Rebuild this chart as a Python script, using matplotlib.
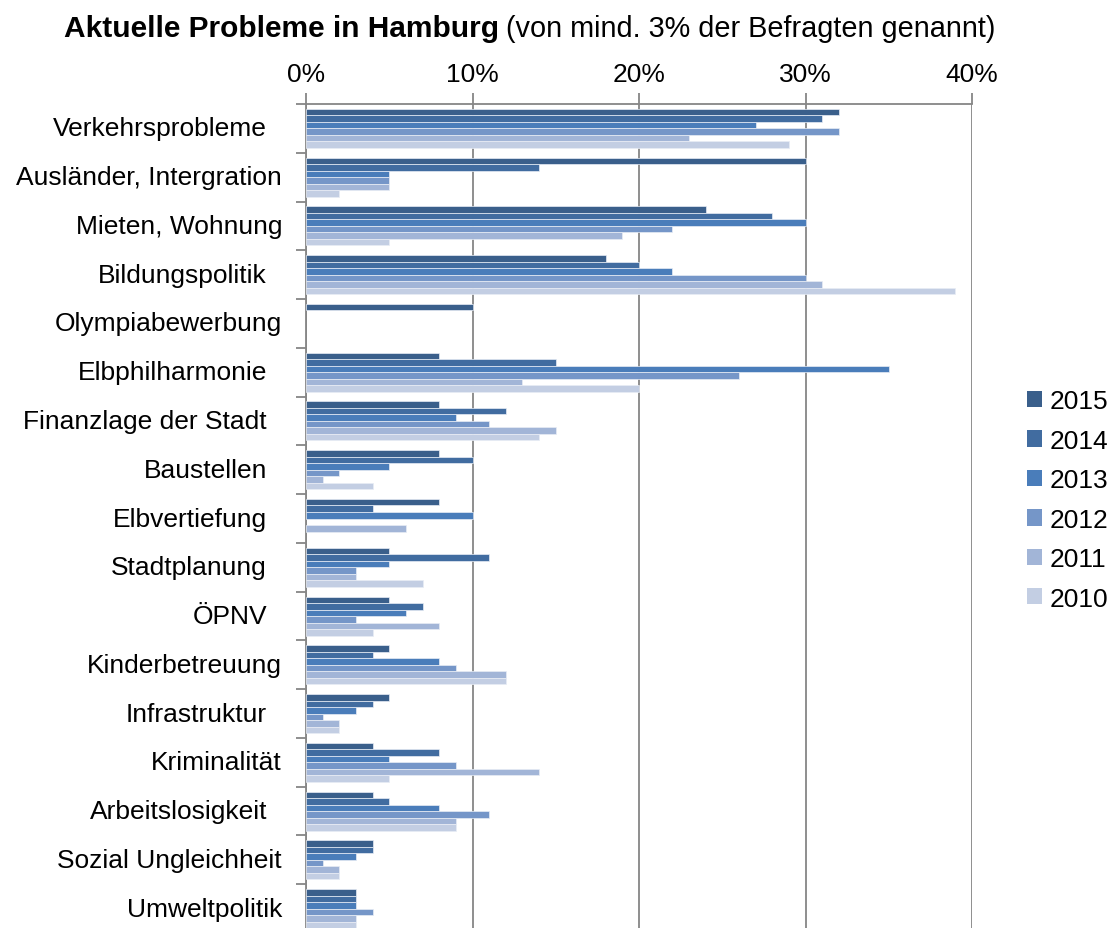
import numpy as np
import matplotlib
matplotlib.use("Agg")
from matplotlib import pyplot as plt
from matplotlib import transforms
from matplotlib.patches import Patch

plt.rcParams['font.family'] = ['Liberation Sans', 'DejaVu Sans']

# categories (trailing space = label sits a bit further left, as in the original)
categories = ["Verkehrsprobleme ", "Ausländer, Intergration", "Mieten, Wohnung",
              "Bildungspolitik ", "Olympiabewerbung", "Elbphilharmonie ",
              "Finanzlage der Stadt ", "Baustellen ", "Elbvertiefung ",
              "Stadtplanung ", "ÖPNV ", "Kinderbetreuung", "Infrastruktur ",
              "Kriminalität", "Arbeitslosigkeit ", "Sozial Ungleichheit",
              "Umweltpolitik"]

nan = np.nan
v2015 = [32, 30, 24, 18, 10, 8, 8, 8, 8, 5, 5, 5, 5, 4, 4, 4, 3]
v2014 = [31, 14, 28, 20, nan, 15, 12, 10, 4, 11, 7, 4, 4, 8, 5, 4, 3]
v2013 = [27, 5, 30, 22, nan, 35, 9, 5, 10, 5, 6, 8, 3, 5, 8, 3, 3]
v2012 = [32, 5, 22, 30, nan, 26, 11, 2, nan, 3, 3, 9, 1, 9, 11, 1, 4]
v2011 = [23, 5, 19, 31, nan, 13, 15, 1, 6, 3, 8, 12, 2, 14, 9, 2, 3]
v2010 = [29, 2, 5, 39, nan, 20, 14, 4, nan, 7, 4, 12, 2, 5, 9, 2, 3]

years = ["2015", "2014", "2013", "2012", "2011", "2010"]
series = [v2015, v2014, v2013, v2012, v2011, v2010]
colors = ["#3a5f8b", "#416ca0", "#4a7dba", "#7596c8", "#a2b5d7", "#c3cee3"]

xticks = [0, 10, 20, 30, 40]
xticklabels = ["0%", "10%", "20%", "30%", "40%"]

fig = plt.figure(figsize=(11.15, 9.29), dpi=100)
ax = fig.add_axes([306/1115, 1 - 934/929, 666/1115, 829/929])

n = len(categories)
ypos = np.arange(n)
bh = 0.8 / len(series)
for k, (vals, col) in enumerate(zip(series, colors)):
    off = -0.4 + bh*(k + 0.5)
    ax.barh(ypos + off, vals, height=bh, color=col, edgecolor="#e8edf5",
            linewidth=0.5, zorder=3)

ax.set_xlim(0, 40)
ax.set_ylim(n - 0.5, -0.5)

# x axis on top
ax.xaxis.tick_top()
ax.set_xticks(xticks)
ax.set_xticklabels(xticklabels, fontsize=19)
ax.tick_params(axis='x', direction='out', length=8, width=1.3, color="#868686", pad=5)
ax.xaxis.grid(True, color="#868686", linewidth=1.3, zorder=1)

# y axis: ticks between categories, labels drawn as text
ax.set_yticks(np.arange(n + 1) - 0.5)
ax.set_yticklabels([])
ax.tick_params(axis='y', direction='out', length=7, width=1.3, color="#868686")

for side in ['right', 'bottom']:
    ax.spines[side].set_visible(False)
for side in ['top', 'left']:
    ax.spines[side].set_color("#868686")
    ax.spines[side].set_linewidth(1.3)

for i, lbl in enumerate(categories):
    shift = 39 if lbl.endswith(" ") else 24
    tr = transforms.offset_copy(ax.get_yaxis_transform(), fig=fig, x=-shift, y=0, units='dots')
    ax.text(0, i, lbl.strip(), transform=tr, ha='right', va='center', fontsize=19)

handles = [Patch(facecolor=c, edgecolor='none') for c in colors]
fig.legend(handles, years, loc='center left', bbox_to_anchor=(1027/1115, 1 - 501/929),
           frameon=False, fontsize=19, handlelength=0.58, handleheight=0.58,
           handletextpad=0.28, labelspacing=0.585, borderpad=0, borderaxespad=0)

fig.text(64/1115, 1 - 29/929, "Aktuelle Probleme in Hamburg", fontsize=21.5,
         fontweight='bold', ha='left', va='center')
fig.text(995/1115, 1 - 29/929, "(von mind. 3% der Befragten genannt)", fontsize=20.8,
         ha='right', va='center')

plt.savefig("out.png", dpi=100)
plt.close()
